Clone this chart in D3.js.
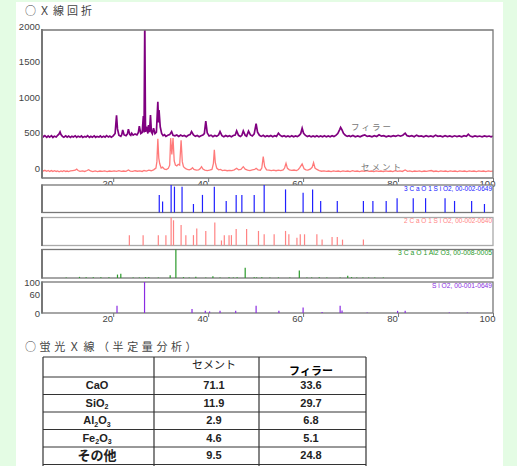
<!DOCTYPE html>
<html><head><meta charset="utf-8">
<script src="https://cdn.jsdelivr.net/npm/d3@7"></script>
<style>
html,body{margin:0;padding:0;background:#e4fce4;}
svg{display:block;}
text{font-family:"Liberation Sans",Arial,sans-serif;}
</style></head><body>
<svg id="c" width="517" height="466"></svg>
<script>
// ---------- DATA ----------
const xTicks = [20, 40, 60, 80, 100];
const yTicks = [0, 500, 1000, 1500, 2000];
const siTicks = [0, 60, 100];

// Filler trace [2theta, intensity]
const fillerTrace = [[5,525],[5.3,498],[5.6,515],[6,492],[6.3,512],[6.6,495],[7,515],[7.3,490],[7.6,508],[8,496],[8.3,520],[8.6,540],[8.8,568],[9.0,530],[9.3,505],[9.6,492],[10,512],[10.3,495],[10.6,510],[11,490],[11.3,508],[11.6,497],[12,514],[12.3,492],[12.6,508],[13,495],[13.3,512],[13.6,490],[14,505],[14.3,495],[14.6,515],[15,492],[15.3,506],[15.6,494],[16,512],[16.3,490],[16.6,505],[17,496],[17.3,512],[17.6,492],[18,506],[18.3,494],[18.6,515],[19,495],[19.3,508],[19.6,492],[20,512],[20.4,545],[20.7,800],[20.9,610],[21.2,520],[21.6,505],[21.8,530],[22.0,595],[22.3,525],[22.7,515],[23.0,540],[23.2,605],[23.5,530],[23.7,520],[23.9,550],[24.2,522],[24.6,540],[25.0,525],[25.3,560],[25.5,650],[25.8,545],[26.1,560],[26.35,790],[26.5,560],[26.65,2150],[26.8,570],[27.1,620],[27.3,545],[27.5,665],[27.65,565],[27.85,805],[28.05,565],[28.25,540],[28.5,620],[28.8,545],[29.1,565],[29.4,990],[29.55,700],[29.65,875],[29.9,640],[30.2,545],[30.5,515],[30.8,528],[31.1,505],[31.5,520],[31.9,530],[32.3,572],[32.6,520],[33.0,512],[33.4,525],[33.8,505],[34.2,525],[34.6,508],[35,518],[35.4,500],[35.8,520],[36.2,530],[36.5,572],[36.9,525],[37.3,505],[37.7,518],[38.1,500],[38.5,515],[38.9,525],[39.2,545],[39.5,720],[39.8,555],[40.2,510],[40.6,522],[41.0,500],[41.4,518],[41.8,505],[42.2,525],[42.5,572],[42.9,515],[43.3,500],[43.7,518],[44.1,502],[44.5,515],[44.9,500],[45.3,518],[45.7,525],[46.0,582],[46.4,520],[46.8,505],[47.1,520],[47.4,582],[47.8,520],[48.1,508],[48.5,578],[48.9,525],[49.3,510],[49.7,540],[50.1,685],[50.4,565],[50.8,520],[51.2,505],[51.6,520],[52.0,500],[52.4,515],[52.8,502],[53.2,518],[53.6,500],[54.0,515],[54.4,505],[54.8,550],[55.2,518],[55.6,502],[56.0,515],[56.4,500],[56.8,512],[57.2,498],[57.6,515],[58.0,500],[58.4,512],[58.8,502],[59.2,520],[59.5,545],[59.8,620],[60.1,548],[60.5,518],[60.9,502],[61.3,515],[61.7,498],[62.1,512],[62.5,500],[62.9,515],[63.3,498],[63.7,512],[64.1,500],[64.5,514],[64.9,498],[65.3,512],[65.7,500],[66.1,515],[66.5,502],[66.9,518],[67.3,545],[67.7,600],[67.9,630],[68.2,595],[68.5,548],[68.9,520],[69.3,505],[69.7,515],[70,502],[70.5,518],[71,500],[71.5,512],[72,498],[72.5,515],[73,525],[73.5,505],[74,512],[74.5,500],[75,515],[75.5,503],[76,528],[76.5,508],[77,515],[77.5,500],[78,512],[78.5,502],[79,515],[79.5,505],[80,520],[80.5,508],[81,522],[81.5,550],[81.9,515],[82.4,505],[82.9,515],[83.4,500],[83.9,522],[84.4,505],[84.9,512],[85.4,500],[85.9,515],[86.4,503],[86.9,512],[87.4,500],[87.9,522],[88.4,505],[88.9,512],[89.4,500],[89.9,515],[90.4,503],[90.9,512],[91.4,500],[91.9,513],[92.4,502],[92.9,512],[93.4,500],[93.9,515],[94.4,505],[94.8,535],[95.2,510],[95.7,500],[96.2,512],[96.7,502],[97.2,510],[97.7,500],[98.2,512],[98.7,502],[99.2,510],[99.6,500],[100,508]];

// Cement trace [2theta, intensity]
const cementTrace = [[5,35],[5.3,18],[5.6,28],[6,14],[6.3,25],[6.6,12],[7,24],[7.3,10],[7.6,22],[8,12],[8.3,20],[8.6,8],[9,20],[9.3,10],[9.6,22],[10,12],[10.3,18],[10.6,10],[11,20],[11.5,25],[12,30],[12.3,45],[12.6,25],[13,14],[13.5,20],[14,12],[14.5,25],[14.8,36],[15.2,20],[15.7,10],[16.2,20],[16.7,10],[17.2,18],[17.7,12],[18.2,20],[18.7,10],[19.2,18],[19.7,12],[20.2,20],[20.7,14],[21.2,22],[21.7,12],[22.2,18],[22.7,14],[23.2,32],[23.6,18],[24.1,12],[24.6,22],[25.1,15],[25.6,20],[26.1,12],[26.5,25],[27,18],[27.5,30],[28,22],[28.5,35],[29.0,60],[29.2,150],[29.4,470],[29.6,200],[29.8,120],[30.1,60],[30.4,72],[30.8,45],[31.2,40],[31.6,55],[31.9,100],[32.1,480],[32.35,250],[32.6,480],[32.85,160],[33.1,103],[33.4,90],[33.7,113],[34.0,100],[34.3,450],[34.55,150],[34.8,80],[35.2,55],[35.6,40],[36.0,35],[36.4,45],[36.7,65],[37.0,40],[37.5,30],[38.0,35],[38.3,50],[38.6,80],[38.9,45],[39.3,30],[39.8,25],[40.3,30],[40.8,40],[41.1,120],[41.3,315],[41.5,140],[41.8,60],[42.2,35],[42.6,40],[43.0,25],[43.5,30],[44.0,22],[44.5,28],[45.0,25],[45.5,35],[46.0,56],[46.4,35],[46.9,40],[47.4,79],[47.8,45],[48.3,30],[48.8,25],[49.3,35],[49.8,40],[50.1,56],[50.5,35],[51.0,30],[51.3,60],[51.6,220],[51.9,80],[52.3,35],[52.8,30],[53.3,25],[53.8,30],[54.3,22],[54.8,30],[55.3,25],[55.8,35],[56.1,60],[56.4,127],[56.7,55],[57.1,35],[57.6,28],[58.1,32],[58.6,25],[59.0,40],[59.3,65],[59.8,117],[60.2,50],[60.6,35],[61.0,30],[61.5,45],[61.9,70],[62.2,135],[62.5,60],[62.9,40],[63.4,25],[63.9,15],[64.4,20],[64.9,12],[65.4,18],[65.9,10],[66.4,20],[66.9,12],[67.4,18],[67.9,10],[68.4,20],[68.9,12],[69.4,18],[69.9,10],[70.4,22],[70.9,12],[71.4,18],[71.9,10],[72.4,20],[72.9,14],[73.4,22],[73.9,12],[74.4,18],[74.9,10],[75.4,20],[75.9,12],[76.4,18],[76.9,10],[77.4,20],[77.9,12],[78.4,18],[78.9,10],[79.4,22],[79.9,14],[80.4,20],[80.9,12],[81.5,32],[82,14],[82.5,20],[83,10],[83.5,18],[84,12],[84.5,20],[85,10],[85.5,18],[86,12],[86.5,20],[87,25],[87.5,12],[88,18],[88.5,10],[89,20],[89.5,12],[90,18],[90.5,10],[91,20],[91.5,12],[92,18],[92.5,10],[93,20],[93.5,12],[94,18],[94.5,10],[95,20],[95.5,12],[96,18],[96.5,10],[97,20],[97.5,12],[98,18],[98.5,10],[99,20],[99.5,12],[100,18]];

// Reference patterns [2theta, relative intensity %]
const c3sPeaks = [[29.7,64],[30.4,40],[32.2,100],[32.9,94],[34.5,94],[36.9,31],[38.8,64],[41.3,94],[43.8,42],[45.9,64],[47.1,64],[49.7,64],[51.8,100],[56.3,84],[60.0,72],[62.0,84],[63.7,42],[67.2,42],[72.7,42],[74.7,42],[77.5,42],[79.8,52],[83.2,52],[85.8,52],[89.9,52],[91.9,42],[95.5,42],[98.2,31]];
const c2sPeaks = [[23.4,37],[26.3,37],[29.5,37],[31.1,37],[32.2,100],[32.7,90],[34.3,73],[35.3,37],[36.9,37],[37.6,61],[39.5,52],[41.4,82],[42.8,18],[43.4,37],[44.4,37],[44.9,37],[45.9,59],[48.1,59],[50.6,52],[51.8,40],[53.9,40],[56.3,52],[57.0,40],[58.7,28],[59.4,40],[60.3,40],[62.9,40],[64.0,21],[66.1,30],[67.2,30],[68.3,21],[72.7,21]];
const c3aPeaks = [[10.1,2],[12.9,4],[14.3,3],[15.8,3],[17.4,3],[19.1,3],[20.9,12],[21.6,15],[24.2,2],[25.5,2],[26.8,3],[27.5,3],[29.5,2],[32.0,10],[33.2,100],[34.8,3],[36.0,2],[37.4,4],[39.5,2],[41.0,6],[42.5,2],[44.4,3],[45.3,2],[46.1,3],[47.8,36],[49.7,3],[50.2,2],[51.3,3],[53.0,2],[54.8,2],[57.2,2],[59.2,26],[60.8,2],[61.8,2],[63.4,3],[65.0,2],[67.8,2],[69.4,8],[70.2,3],[71.3,2],[72.6,2],[73.8,2],[75.1,2],[76.9,2]];
const sio2Peaks = [[20.8,23],[26.6,100],[36.6,13],[39.4,7],[40.3,5],[42.5,7],[45.8,7],[50.1,23],[54.9,7],[60.0,18],[64.0,3],[67.8,23],[68.2,8],[73.5,2],[79.9,7],[81.5,7],[90.8,2],[94.6,2]];

const panelNames = ["3 C a O 1 S i O2, 00-002-0649", "2 C a O 1 S i O2, 00-002-0640", "3 C a O 1 Al2 O3, 00-008-0005", "S i O2, 00-001-0649"];

// Table (XRF semi-quantitative)
const oxides = ["CaO", "SiO2", "Al2O3", "Fe2O3", "その他"];
const cementXRF = [71.1, 11.9, 2.9, 4.6, 9.5];
const fillerXRF = [33.6, 29.7, 6.8, 5.1, 24.8];
const tableHeaders = ["", "セメント", "フィラー"];

// ---------- DRAW ----------
const svg = d3.select("#c");
svg.append("rect").attr("x",16).attr("y",2).attr("width",487).attr("height",464).attr("fill","#fff");

const jp = '"Noto Sans CJK JP","Noto Sans",sans-serif';
svg.append("text").attr("x",25).attr("y",15).text("○Ｘ線回折")
  .style("font-family",jp).style("font-size","11px").style("letter-spacing","3px").attr("fill","#444");

const L = 42, R = 493;
const x = d3.scaleLinear().domain([5,100]).range([L,R]);
const yMain = d3.scaleLinear().domain([-80,2000]).range([178,30]);

svg.append("clipPath").attr("id","cm").append("rect").attr("x",L).attr("y",30).attr("width",R-L).attr("height",148);

const line = d3.line().x(d=>x(d[0])).y(d=>yMain(d[1]));
const gm = svg.append("g").attr("clip-path","url(#cm)");
gm.append("path").datum(cementTrace).attr("d",line).attr("fill","none").attr("stroke","#ff7a7a").attr("stroke-width",1.3);
gm.append("path").datum(fillerTrace).attr("d",line).attr("fill","none").attr("stroke","#800080").attr("stroke-width",1.7);

// frame
svg.append("path").attr("d",`M${L},178H${R}V30H${L}`).attr("fill","none").attr("stroke","#777").attr("stroke-width",1.3);
svg.append("line").attr("x1",L).attr("x2",L).attr("y1",29).attr("y2",178.5).attr("stroke","#777").attr("stroke-width",2);

// y axis main
const gy = svg.append("g").attr("transform",`translate(${L},0)`)
  .call(d3.axisLeft(yMain).tickValues(yTicks).tickSize(0).tickPadding(2).tickFormat(d3.format("d")));
gy.select(".domain").remove();
gy.selectAll("text").attr("y",-4).attr("fill","#444").style("font-size","9.5px").style("font-family","Liberation Sans");

// x axis
function xAxis(yPos){
  const g = svg.append("g").attr("transform",`translate(0,${yPos})`)
    .call(d3.axisBottom(x).tickValues(xTicks).tickSize(4).tickFormat(d3.format("d")));
  g.select(".domain").remove();
  g.selectAll("line").attr("stroke","#777");
  g.selectAll("text").attr("dx",-6).attr("y",2).attr("fill","#444").style("font-size","9.5px").style("font-family","Liberation Sans");
  return g;
}
xAxis(178);

// series labels
svg.append("text").attr("x",372).attr("y",130).attr("text-anchor","middle").text("フィラー")
  .style("font-family",jp).style("font-size","8.5px").style("letter-spacing","2px").attr("fill","#777");
svg.append("text").attr("x",382).attr("y",170).attr("text-anchor","middle").text("セメント")
  .style("font-family",jp).style("font-size","8.5px").style("letter-spacing","2px").attr("fill","#777");

// reference panels
const panels = [
  {peaks:c3sPeaks, top:185, bottom:212.5, color:"#2020ff", frame:"#777", name:panelNames[0], lw:88},
  {peaks:c2sPeaks, top:217.5, bottom:245.5, color:"#ff8484", frame:"#aaa", name:panelNames[1], lw:88},
  {peaks:c3aPeaks, top:249.5, bottom:278, color:"#2a9a2a", frame:"#777", name:panelNames[2], lw:94},
  {peaks:sio2Peaks, top:282, bottom:313, color:"#8a2be2", frame:"#777", name:panelNames[3], lw:60}
];
panels.forEach((p,i)=>{
  const yp = d3.scaleLinear().domain([0,100]).range([p.bottom,p.top]);
  svg.append("rect").attr("x",L).attr("y",p.top).attr("width",R-L).attr("height",p.bottom-p.top)
    .attr("fill","#fff").attr("stroke",p.frame).attr("stroke-width",1.3);
  svg.append("line").attr("x1",L).attr("x2",L).attr("y1",p.top-0.5).attr("y2",p.bottom+0.5).attr("stroke","#777").attr("stroke-width",2);
  svg.append("g").selectAll("line").data(p.peaks).join("line")
    .attr("x1",d=>x(d[0])).attr("x2",d=>x(d[0]))
    .attr("y1",p.bottom).attr("y2",d=>yp(d[1]))
    .attr("stroke",p.color).attr("stroke-width",1.2);
  svg.append("text").attr("x",R-1).attr("y",p.top+5.5).attr("text-anchor","end")
    .attr("textLength",p.lw).attr("lengthAdjust","spacingAndGlyphs")
    .attr("fill",p.color).style("font-size","6.5px").text(p.name);
  if(i===3){
    const g = svg.append("g").attr("transform",`translate(${L},0)`)
      .call(d3.axisLeft(yp).tickValues(siTicks).tickSize(0).tickPadding(2).tickFormat(d3.format("d")));
    g.select(".domain").remove();
    g.selectAll("text").attr("fill","#444").style("font-size","9.5px").style("font-family","Liberation Sans");
    xAxis(p.bottom);
  }
});

// ---------- TABLE ----------
svg.append("text").attr("x",25).attr("y",351).text("○蛍光Ｘ線（半定量分析）")
  .style("font-family",jp).style("font-size","11px").style("letter-spacing","3.6px").attr("fill","#444");

const colX = [43, 154, 259, 366];
const colC = [97, 214, 311];
const rowY = [357, 377, 394.5, 412, 429.5, 447, 464.5];
const tg = svg.append("g");
rowY.forEach(yv=>tg.append("line").attr("x1",colX[0]).attr("x2",colX[3]).attr("y1",yv).attr("y2",yv).attr("stroke","#333").attr("stroke-width",1));
colX.forEach(xv=>tg.append("line").attr("x1",xv).attr("x2",xv).attr("y1",rowY[0]).attr("y2",466).attr("stroke","#333").attr("stroke-width",1.2));

tg.append("text").attr("x",colC[1]).attr("y",369).attr("text-anchor","middle").text(tableHeaders[1])
  .style("font-family",jp).style("font-size","11px").attr("fill","#222");
tg.append("text").attr("x",colC[2]).attr("y",375).attr("text-anchor","middle").text(tableHeaders[2])
  .style("font-family",jp).style("font-size","11px").style("font-weight","bold").attr("fill","#000");

oxides.forEach((o,i)=>{
  const cy = (rowY[i+1]+rowY[i+2])/2 + 3.5;
  const t = tg.append("text").attr("x",colC[0]).attr("y",cy).attr("text-anchor","middle")
    .style("font-weight","bold").style("font-size","11px").attr("fill","#222");
  if(i===4){
    t.style("font-family",jp).style("font-size","13px").attr("y",cy+1).text(o);
  } else {
    const parts = o.match(/[A-Za-z]+|\d+/g);
    let lowered = false;
    parts.forEach(pt=>{
      if(/\d/.test(pt)){
        t.append("tspan").attr("dy",2.5).style("font-size","7px").text(pt);
        lowered = true;
      } else {
        t.append("tspan").attr("dy", lowered ? -2.5 : 0).text(pt);
        lowered = false;
      }
    });
  }
  tg.append("text").attr("x",colC[1]).attr("y",cy).attr("text-anchor","middle").text(cementXRF[i].toFixed(1))
    .style("font-weight","bold").style("font-size","11px").attr("fill","#222");
  tg.append("text").attr("x",colC[2]).attr("y",cy).attr("text-anchor","middle").text(fillerXRF[i].toFixed(1))
    .style("font-weight","bold").style("font-size","11px").attr("fill","#222");
});
</script></body></html>
